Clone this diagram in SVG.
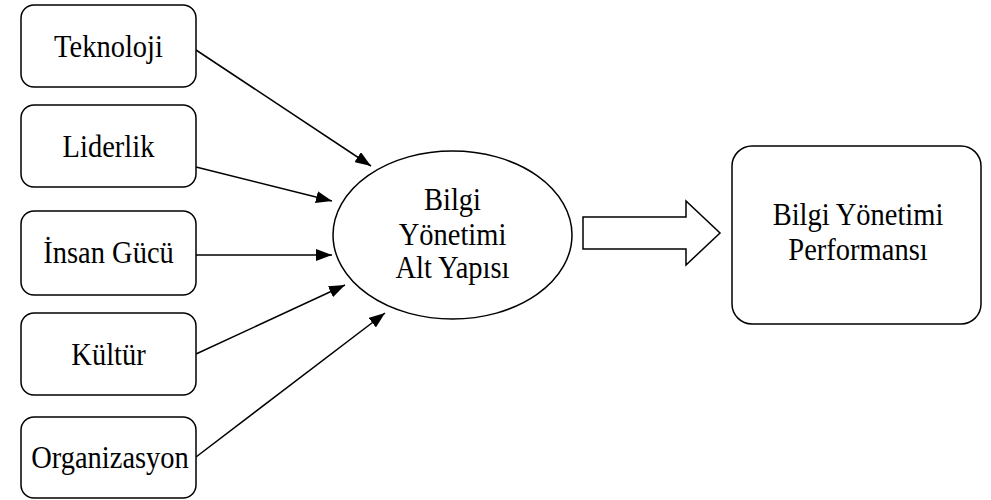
<svg xmlns="http://www.w3.org/2000/svg" width="991" height="500" viewBox="0 0 991 500">
<style>
.box{fill:#fff;stroke:#000;stroke-width:1.5}
text{font-family:'Liberation Serif','DejaVu Serif',serif;font-size:28.5px;fill:#000;text-anchor:middle}
.c{stroke:#000;stroke-width:1.5;fill:none;marker-end:url(#ah)}
</style>
<defs>
<marker id="ah" markerUnits="userSpaceOnUse" viewBox="0 0 16 12" refX="16" refY="6" markerWidth="16" markerHeight="12" orient="auto">
<path d="M0,0 L16,6 L0,12 Z" fill="#000"/>
</marker>
</defs>
<rect width="991" height="500" fill="#fff"/>
<g id="connectors">
<line class="c" x1="196" y1="50" x2="371" y2="166"/>
<line class="c" x1="196" y1="167" x2="332" y2="201"/>
<line class="c" x1="196" y1="255" x2="332" y2="255"/>
<line class="c" x1="196" y1="354" x2="345" y2="285"/>
<line class="c" x1="196" y1="457" x2="385" y2="313"/>
<path id="block-arrow" d="M583,217 L686,217 L686,201 L720,233 L686,265 L686,249 L583,249 Z" fill="#fff" stroke="#000" stroke-width="1.5"/>
</g>
<g id="teknoloji">
<rect class="box" x="21" y="5" width="175" height="82" rx="13"/>
<text transform="translate(108.5,57) scale(1,1.12)">Teknoloji</text>
</g>
<g id="liderlik">
<rect class="box" x="21" y="105" width="175" height="82" rx="13"/>
<text transform="translate(108.5,157) scale(1,1.12)">Liderlik</text>
</g>
<g id="insan-gucu">
<rect class="box" x="21" y="211" width="175" height="84" rx="13"/>
<text transform="translate(108.5,263) scale(1,1.12)">İnsan Gücü</text>
</g>
<g id="kultur">
<rect class="box" x="21" y="313" width="175" height="82" rx="13"/>
<text transform="translate(108.5,365) scale(1,1.12)">Kültür</text>
</g>
<g id="organizasyon">
<rect class="box" x="21" y="417" width="175" height="81" rx="13"/>
<text transform="translate(110,468) scale(1,1.12)">Organizasyon</text>
</g>
<g id="bilgi-yonetimi-alt-yapisi">
<ellipse class="box" cx="452.5" cy="235" rx="119.5" ry="84"/>
<text transform="translate(452.5,210) scale(1,1.12)">Bilgi</text>
<text transform="translate(452.5,245) scale(1,1.12)">Yönetimi</text>
<text transform="translate(452.5,278) scale(1,1.12)">Alt Yapısı</text>
</g>
<g id="bilgi-yonetimi-performansi">
<rect class="box" x="732" y="146" width="249" height="178" rx="20"/>
<text transform="translate(858,225) scale(1,1.12)">Bilgi Yönetimi</text>
<text transform="translate(858,260) scale(1,1.12)">Performansı</text>
</g>
</svg>
